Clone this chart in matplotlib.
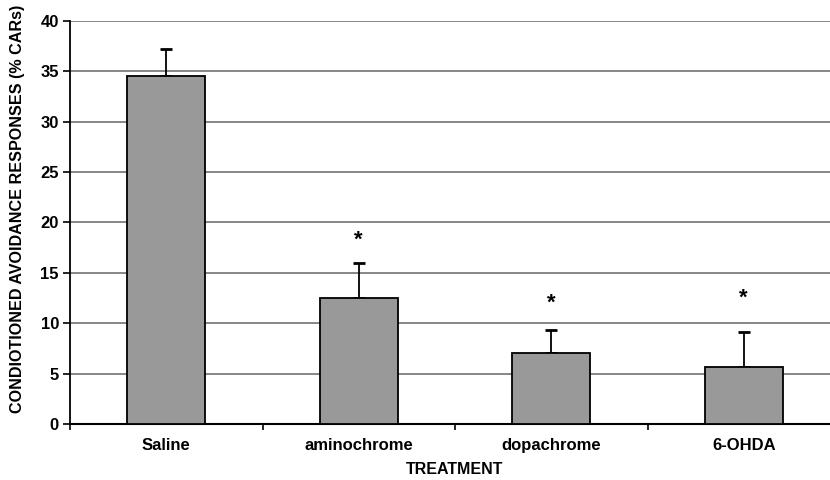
import numpy as np
import matplotlib.pyplot as plt

plt.rcParams['font.family'] = ['Liberation Sans', 'DejaVu Sans']
plt.rcParams['font.weight'] = 'bold'

treatments = ["Saline", "aminochrome", "dopachrome", "6-OHDA"]
car_mean = [34.5, 12.5, 7.0, 5.7]
car_sem = [2.7, 3.5, 2.3, 3.4]
signif = [False, True, True, True]
star_y = [None, 18.2, 12.0, 12.5]

fig = plt.figure(figsize=(8.3, 4.8), dpi=100)
# axes run past the right edge of the figure
ax = fig.add_axes([70 / 830, 56 / 480, 770 / 830, 403 / 480])

x = np.arange(len(treatments))
ax.bar(x, car_mean, width=0.405, color="#999999", edgecolor="black",
       linewidth=1.3, zorder=3)
ax.errorbar(x, car_mean, yerr=[np.zeros(len(x)), car_sem], fmt="none",
            ecolor="black", elinewidth=1.3, capsize=4, capthick=2, zorder=2)

for xi, s, sy in zip(x, signif, star_y):
    if s:
        ax.text(xi, sy, "*", ha="center", va="center", fontsize=16,
                fontweight="bold")

ax.set_xlim(-0.5, 3.5)
ax.set_ylim(0, 40)
ax.set_yticks(np.arange(0, 41, 5))
ax.yaxis.grid(True, color="#666666", linewidth=1.1, zorder=0)
ax.set_axisbelow(True)

ax.set_xticks(x)
ax.set_xticklabels(treatments, fontsize=12, fontweight="bold")
ax.set_xticks(np.arange(-0.5, 4, 1), minor=True)
ax.tick_params(axis="x", which="major", length=0, pad=10)
ax.tick_params(axis="x", which="minor", length=4, width=1.2, direction="out")
ax.tick_params(axis="y", length=5, width=1.2, direction="out", labelsize=12,
               pad=3)
for lbl in ax.get_yticklabels():
    lbl.set_fontweight("bold")

for side in ["top", "right"]:
    ax.spines[side].set_visible(False)
ax.spines["left"].set_linewidth(1.3)
ax.spines["bottom"].set_linewidth(1.5)

ax.set_xlabel("TREATMENT", fontsize=11.5, fontweight="bold")
ax.set_ylabel("CONDIOTIONED AVOIDANCE RESPONSES (% CARs)", fontsize=11.6,
              fontweight="bold")
ax.xaxis.set_label_coords(0.5, -38 / 403)
ax.yaxis.set_label_coords(-45 / 770, 215 / 403)

fig.savefig("out.png", dpi=100)
